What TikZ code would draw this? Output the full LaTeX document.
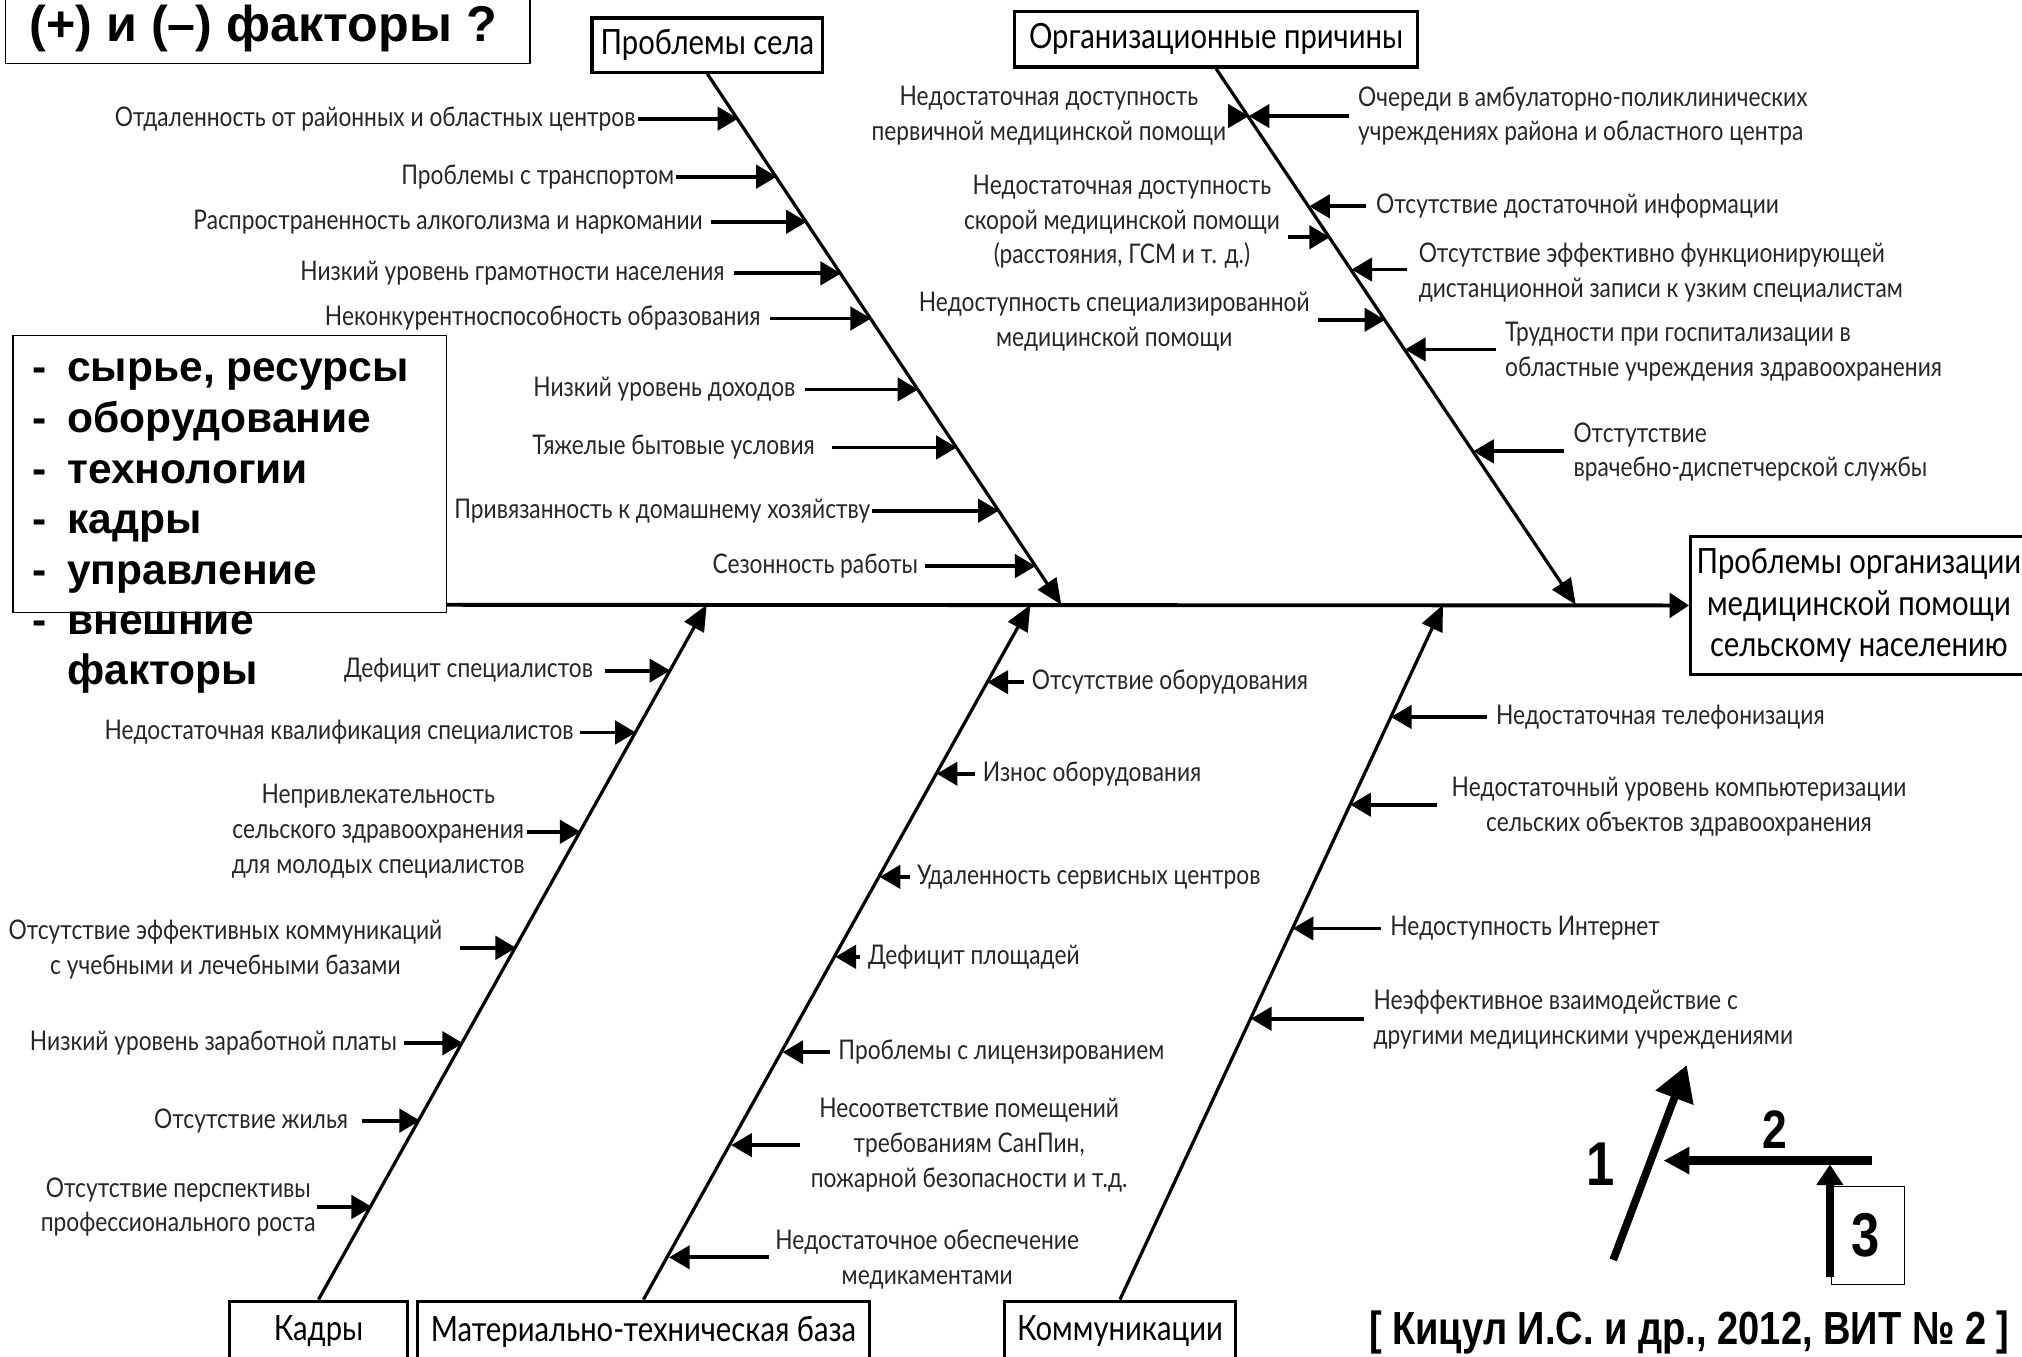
\documentclass[tikz,border=0pt]{standalone}
\usepackage{fontspec}
\setmainfont{Lato}
\newfontfamily\labfont[FakeStretch=0.84]{Lato}
\newfontfamily\narrowb[FakeStretch=0.82]{Liberation Sans}
\newfontfamily\wideb{Liberation Sans}
\usetikzlibrary{arrows.meta}
\newcommand\boneTL[1]{548.5+0.66465*(#1-56)}
\newcommand\boneTR[1]{943+0.66906*(#1-52)}
\newcommand\boneBL[1]{548-0.55556*(#1-469)}
\newcommand\boneBM[1]{799-0.55370*(#1-469)}
\newcommand\boneBR[1]{1119-0.46396*(#1-469)}
\newcommand\farrow[4]{\coordinate (#1a) at (#2,#3); \coordinate (#1t) at ({#4},#3); \draw[arr] (#1a) -- (#1t);}
\tikzset{
 lab/.style={inner sep=0pt, font=\labfont\fontsize{21}{27}\selectfont, text=black!85},
 cat/.style={draw, line width=2.5pt, fill=white, inner sep=0pt, font=\labfont\fontsize{27}{32.5}\selectfont},
 arr/.style={line width=3pt, -{Triangle[length=16pt,width=18pt]}},
 bone/.style={line width=2.5pt, -{Triangle[length=20pt,width=17pt]}},
 bul/.style={inner sep=0pt, anchor=base west, font=\wideb\bfseries\fontsize{33}{39}\selectfont},
 big/.style={inner sep=0pt, font=\narrowb\bfseries\fontsize{48}{50}\selectfont},
 thinbox/.style={draw, line width=1pt, inner sep=0pt},
}
\begin{document}
\begin{tikzpicture}[x=1pt,y=-1pt]
\useasboundingbox (0,0) rectangle (1568,1052);
% head and spine
\node[cat, minimum width=261pt, minimum height=107pt, align=center] (head) at (1441.5,469.5) {Проблемы организации\\медицинской помощи\\сельскому населению};
\coordinate (spL) at (340,469);
\draw[line width=3pt,-{Triangle[length=15pt,width=19pt]}] (spL) -- (head.west);
% categories
\node[cat, minimum width=179pt, minimum height=42pt] (c1) at (548.5,35) {Проблемы села};
\node[cat, minimum width=312pt, minimum height=43pt] (c2) at (943,30.5) {Организационные причины};
\node[cat, minimum width=138pt, minimum height=47pt] (c3) at (247,1032.5) {Кадры};
\node[cat, minimum width=350pt, minimum height=47pt] (c4) at (499,1032.5) {Материально-техническая база};
\node[cat, minimum width=179pt, minimum height=47pt] (c5) at (868.5,1032.5) {Коммуникации};
\coordinate (s1) at (823,469); \draw[bone] (c1.south) -- (s1);
\coordinate (s2) at (1222,469); \draw[bone] (c2.south) -- (s2);
\coordinate (s3) at (548,469); \draw[bone] (c3.north) -- (s3);
\coordinate (s4) at (799,469); \draw[bone] (c4.north) -- (s4);
\coordinate (s5) at (1119,469); \draw[bone] (c5.north) -- (s5);
% top-left bone
\node[lab, anchor=east] (p1) at (493,92) {Отдаленность от районных и областных центров};
\farrow{p1}{495}{92}{\boneTL{92}}
\node[lab, anchor=east] (p2) at (523,137) {Проблемы с транспортом};
\farrow{p2}{524}{137}{\boneTL{137}}
\node[lab, anchor=east] (p3) at (545,172) {Распространенность алкоголизма и наркомании};
\farrow{p3}{551}{172}{\boneTL{172}}
\node[lab, anchor=east] (p4) at (562,212) {Низкий уровень грамотности населения};
\farrow{p4}{569}{212}{\boneTL{212}}
\node[lab, anchor=east] (p5) at (590,247) {Неконкурентноспособность образования};
\farrow{p5}{597}{247}{\boneTL{247}}
\node[lab, anchor=east] (p6) at (617,302) {Низкий уровень доходов};
\farrow{p6}{624}{302}{\boneTL{302}}
\node[lab, anchor=east] (p7) at (632,347) {Тяжелые бытовые условия};
\farrow{p7}{645}{347}{\boneTL{347}}
\node[lab, anchor=east] (p8) at (675,396) {Привязанность к домашнему хозяйству};
\farrow{p8}{676}{396}{\boneTL{396}}
\node[lab, anchor=east] (p9) at (712,439) {Сезонность работы};
\farrow{p9}{717}{439}{\boneTL{439}}
% top-right bone
\node[lab, anchor=east, align=center] (o1) at (951,90) {Недостаточная доступность\\первичной медицинской помощи};
\farrow{o1}{952}{90}{\boneTR{90}}
\node[lab, anchor=west, align=left] (o2) at (1053,90) {Очереди в амбулаторно-поликлинических\\учреждениях района и областного центра};
\farrow{o2}{1046}{90}{\boneTR{90}}
\node[lab, anchor=west] (o3) at (1067,160) {Отсутствие достаточной информации};
\farrow{o3}{1059}{160}{\boneTR{160}}
\node[lab, align=center] (o4) at (870,172) {Недостаточная доступность\\скорой медицинской помощи\\(расстояния, ГСМ и т. д.)};
\farrow{o4}{999}{184}{\boneTR{184}}
\node[lab, anchor=west, align=left] (o5) at (1100,211.5) {Отсутствие эффективно функционирующей\\дистанционной записи к узким специалистам};
\farrow{o5}{1091}{209}{\boneTR{209}}
\node[lab, align=center] (o6) at (864,249.5) {Недоступность специализированной\\медицинской помощи};
\farrow{o6}{1022}{248}{\boneTR{248}}
\node[lab, anchor=west, align=left] (o7) at (1167,272.5) {Трудности при госпитализации в\\областные учреждения здравоохранения};
\farrow{o7}{1160}{271}{\boneTR{271}}
\node[lab, anchor=west, align=left] (o8) at (1220,350.5) {Отстутствие\\врачебно-диспетчерской службы};
\farrow{o8}{1213}{350}{\boneTR{350}}
% bottom-left bone
\node[lab, anchor=east] (k1) at (460,520) {Дефицит специалистов};
\farrow{k1}{469}{520}{\boneBL{520}}
\node[lab, anchor=east] (k2) at (445,568) {Недостаточная квалификация специалистов};
\farrow{k2}{450}{568}{\boneBL{568}}
\node[lab, anchor=east, align=center] (k3) at (407,644.5) {Непривлекательность\\сельского здравоохранения\\для молодых специалистов};
\farrow{k3}{408.5}{645}{\boneBL{645}}
\node[lab, anchor=east, align=center] (k4) at (343,736) {Отсутствие эффективных коммуникаций\\с учебными и лечебными базами};
\farrow{k4}{357}{735}{\boneBL{735}}
\node[lab, anchor=east] (k5) at (308,809) {Низкий уровень заработной платы};
\farrow{k5}{313}{809}{\boneBL{809}}
\node[lab, anchor=east] (k6) at (270,869) {Отсутствие жилья};
\farrow{k6}{281}{869}{\boneBL{869}}
\node[lab, anchor=east, align=center] (k7) at (245,936) {Отсутствие перспективы\\профессионального роста};
\farrow{k7}{246}{936}{\boneBL{936}}
% bottom-middle bone
\node[lab, anchor=west] (m1) at (800,529) {Отсутствие оборудования};
\farrow{m1}{794}{529}{\boneBM{529}}
\node[lab, anchor=west] (m2) at (762,600) {Износ оборудования};
\farrow{m2}{756}{600}{\boneBM{600}}
\node[lab, anchor=west] (m3) at (711,680) {Удаленность сервисных центров};
\farrow{m3}{705.5}{680}{\boneBM{680}}
\node[lab, anchor=west] (m4) at (673,742) {Дефицит площадей};
\farrow{m4}{667}{742}{\boneBM{742}}
\node[lab, anchor=west] (m5) at (650,816) {Проблемы с лицензированием};
\farrow{m5}{644}{816}{\boneBM{816}}
\node[lab, align=center] (m6) at (751.5,888) {Несоответствие помещений\\требованиям СанПин,\\пожарной безопасности и т.д.};
\farrow{m6}{620}{888}{\boneBM{888}}
\node[lab, align=center] (m7) at (719,976.5) {Недостаточное обеспечение\\медикаментами};
\farrow{m7}{596}{975}{\boneBM{975}}
% bottom-right bone
\node[lab, anchor=west] (r1) at (1160,556) {Недостаточная телефонизация};
\farrow{r1}{1153}{556}{\boneBR{556}}
\node[lab, align=center] (r2) at (1302,625.5) {Недостаточный уровень компьютеризации\\сельских объектов здравоохранения};
\farrow{r2}{1114}{624}{\boneBR{624}}
\node[lab, anchor=west] (r3) at (1078,720) {Недоступность Интернет};
\farrow{r3}{1071}{720}{\boneBR{720}}
\node[lab, anchor=west, align=left] (r4) at (1065,790.5) {Неэффективное взаимодействие с\\другими медицинскими учреждениями};
\farrow{r4}{1058}{790}{\boneBR{790}}
% top-left question box
\node[thinbox, minimum width=407pt, minimum height=56pt] (qbox) at (207.5,21) {};
\node[inner sep=0pt, font=\wideb\bfseries\fontsize{39}{42}\selectfont] (qtext) at (204,22) {(+) и (–) факторы ?};
% bullet box
\node[thinbox, fill=white, minimum width=336pt, minimum height=215pt] (bbox) at (178,367.5) {};
\node[bul] (b1) at (25,296) {\makebox[27pt][l]{-}сырье, ресурсы};
\node[bul] (b2) at (25,335) {\makebox[27pt][l]{-}оборудование};
\node[bul] (b3) at (25,375) {\makebox[27pt][l]{-}технологии};
\node[bul] (b4) at (25,414) {\makebox[27pt][l]{-}кадры};
\node[bul] (b5) at (25,453) {\makebox[27pt][l]{-}управление};
\node[bul] (b6) at (25,492) {\makebox[27pt][l]{-}внешние};
\node[bul] (b7) at (25,531) {\makebox[27pt][l]{}факторы};
% legend
\coordinate (l1s) at (1251,977); \coordinate (l1e) at (1308,826);
\draw[line width=6pt, -{Triangle[length=27pt,width=30pt]}] (l1s) -- (l1e);
\coordinate (l2s) at (1452,900); \coordinate (l2e) at (1290,900);
\draw[line width=6.5pt, -{Triangle[length=20pt,width=20pt]}] (l2s) -- (l2e);
\node[thinbox, minimum width=57pt, minimum height=76pt] (box3) at (1448.5,958) {};
\coordinate (l3s) at (1419,990); \coordinate (l3e) at (1419,903);
\draw[line width=6.5pt, -{Triangle[length=16pt,width=20pt]}] (l3s) -- (l3e);
\node[big] (n1) at (1241,903) {1};
\node[big, font=\narrowb\bfseries\fontsize{42}{44}\selectfont] (n2) at (1376,876) {2};
\node[big] (n3) at (1447,958) {3};
\node[inner sep=0pt, font=\narrowb\bfseries\fontsize{36}{40}\selectfont] (cit) at (1310,1033) {[ Кицул И.С. и др., 2012, ВИТ № 2 ]};
\end{tikzpicture}
\end{document}
